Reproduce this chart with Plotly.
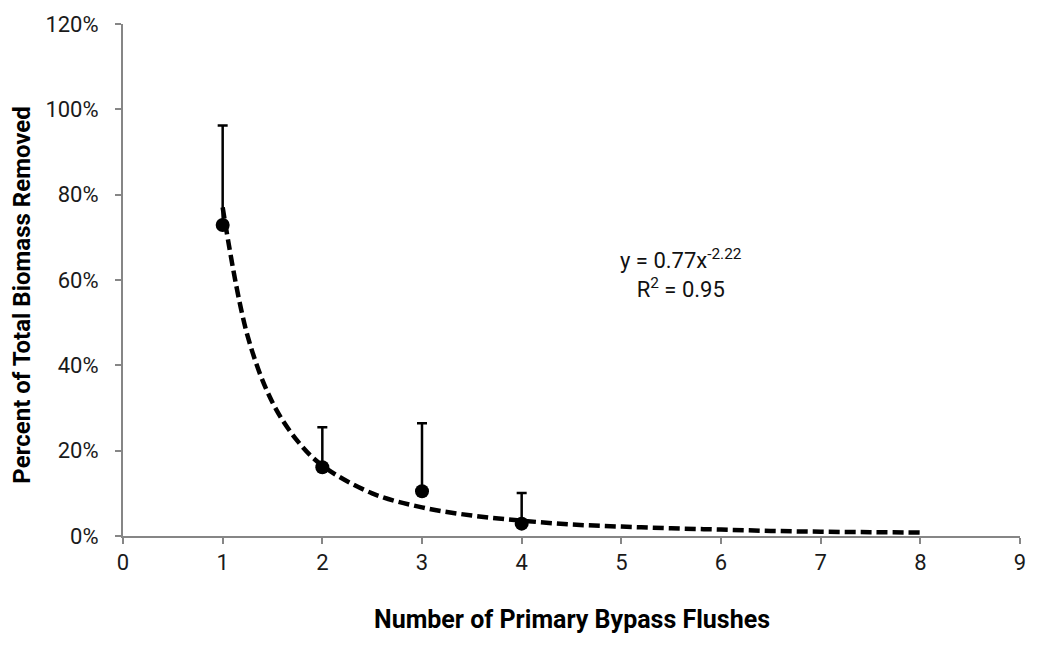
import plotly.graph_objects as go

# Measured data (fraction of total biomass removed)
flushes = [1, 2, 3, 4]
removed = [0.729, 0.161, 0.105, 0.029]
err_plus = [0.233, 0.094, 0.159, 0.072]

# Power trendline as drawn, y = 0.77x^-2.22
trend_x = [1, 1.25, 1.5, 1.75, 2, 2.5, 3, 3.5, 4, 4.5, 5, 5.5, 6, 6.5, 7, 7.5, 8]
trend_y = [0.770, 0.469, 0.313, 0.223, 0.165, 0.100, 0.067, 0.048, 0.036, 0.027,
           0.022, 0.018, 0.015, 0.012, 0.010, 0.009, 0.008]

x_ticks = [0, 1, 2, 3, 4, 5, 6, 7, 8, 9]
y_ticks = [0, 0.2, 0.4, 0.6, 0.8, 1.0, 1.2]
y_labels = ["0%", "20%", "40%", "60%", "80%", "100%", "120%"]

FONT = "Roboto, Arial, sans-serif"

fig = go.Figure()
fig.add_trace(go.Scatter(
    x=trend_x, y=trend_y, mode="lines",
    line=dict(color="black", width=4.5, dash="11px,5px", shape="spline", smoothing=1.0),
    hoverinfo="skip", showlegend=False))
fig.add_trace(go.Scatter(
    x=flushes, y=removed, mode="markers",
    marker=dict(color="black", size=14),
    error_y=dict(type="data", array=err_plus, arrayminus=[0, 0, 0, 0], symmetric=False,
                 color="black", thickness=2.5, width=5),
    showlegend=False))

fig.add_annotation(x=5.6, y=0.615, xref="x", yref="y",
                   text="y = 0.77x<sup>-2.22</sup><br>R<sup>2</sup> = 0.95",
                   showarrow=False, align="center",
                   font=dict(family=FONT, size=22, color="#111"))

# axis titles
fig.add_annotation(x=0.5, y=-0.163, xref="paper", yref="paper",
                   text="<b>Number of Primary Bypass Flushes</b>", showarrow=False,
                   xanchor="center", yanchor="middle",
                   font=dict(family=FONT, size=25, color="black"))
fig.add_annotation(x=-0.1123, y=0.47, xref="paper", yref="paper",
                   text="<b>Percent of Total Biomass Removed</b>", showarrow=False,
                   textangle=-90, xanchor="center", yanchor="middle",
                   font=dict(family=FONT, size=24, color="black"))

axis_common = dict(showgrid=False, zeroline=False, showline=True, linecolor="#868686",
                   linewidth=2, ticks="outside", tickcolor="#868686", ticklen=6, tickwidth=1.5,
                   tickfont=dict(family=FONT, size=22, color="#1a1a1a"))

fig.update_xaxes(range=[0, 9], tickvals=x_ticks, ticktext=[str(v) for v in x_ticks],
                 ticklabelstandoff=0, **axis_common)
fig.update_yaxes(range=[0, 1.2], tickvals=y_ticks, ticktext=y_labels,
                 ticklabelstandoff=12, **axis_common)

fig.update_layout(width=1038, height=658, paper_bgcolor="white", plot_bgcolor="white",
                  margin=dict(l=123, r=16, t=20, b=122), showlegend=False)

fig.write_html("out.html")
